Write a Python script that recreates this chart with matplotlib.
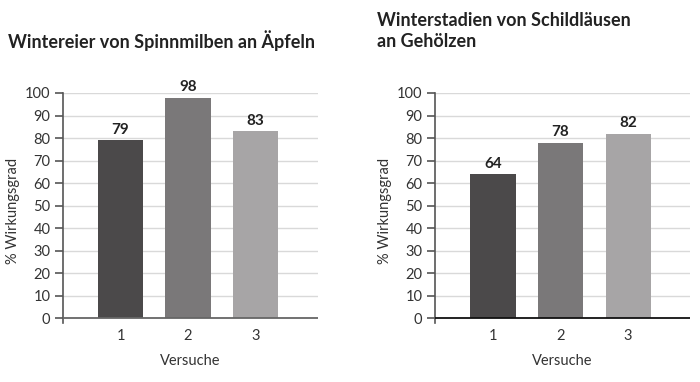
import matplotlib
matplotlib.use("Agg")
import matplotlib.pyplot as plt

plt.rcParams['font.family'] = ['Lato', 'DejaVu Sans']

categories = ["1", "2", "3"]
values_left = [79, 98, 83]
values_right = [64, 78, 82]
title_left = "Wintereier von Spinnmilben an Äpfeln"
title_right = "Winterstadien von Schildläusen\nan Gehölzen"
ylabel = "% Wirkungsgrad"
xlabel = "Versuche"
yticks = [0, 10, 20, 30, 40, 50, 60, 70, 80, 90, 100]
colors = ["#4b494a", "#7a7879", "#a7a5a6"]

W, H = 700, 382
fig = plt.figure(figsize=(W / 100, H / 100), dpi=100)


def add_ax(x0, x1, ytop, ybot):
    return fig.add_axes([x0 / W, 1 - ybot / H, (x1 - x0) / W, (ybot - ytop) / H])


def draw(ax, vals, xlim, base_color):
    xs = list(range(1, len(vals) + 1))
    ax.bar(xs, vals, width=0.667, color=colors, zorder=3)
    ax.set_xlim(*xlim)
    ax.set_ylim(-2, 100)
    ax.set_yticks(yticks)
    ax.set_xticks(xs)
    ax.set_xticklabels(categories)
    for y in yticks[1:]:
        ax.axhline(y, color="#d9d9d9", lw=1, zorder=1)
    ax.axhline(0, color=base_color, lw=1.3, zorder=4)
    for s in ["top", "right", "bottom"]:
        ax.spines[s].set_visible(False)
    ax.spines["left"].set_color("#555555")
    ax.spines["left"].set_linewidth(1.2)
    ax.tick_params(axis="y", length=6, width=1.2, color="#555555", labelsize=10.5,
                   labelcolor="#333333", pad=3)
    ax.tick_params(axis="x", length=0, labelsize=10.5, labelcolor="#333333", pad=4)
    for x, v in zip(xs, vals):
        ax.text(x, v + 1.5, str(v), ha="center", va="bottom", fontsize=11,
                fontweight="bold", color="#222222")
    ax.set_xlabel(xlabel, fontsize=10.5, color="#333333", labelpad=8)
    ax.set_ylabel(ylabel, fontsize=10.5, color="#333333")
    ax.yaxis.set_label_coords(-0.17, 0.487)


axL = add_ax(63, 318, 93, 323)
draw(axL, values_left, (0.148, 3.926), "#666666")
axR = add_ax(435, 690, 93, 323)
draw(axR, values_right, (0.141, 3.918), "#111111")

fig.text(8 / W, 1 - 41 / H, title_left, fontsize=13, fontweight="bold",
         color="#222222", va="center", ha="left")
fig.text(377 / W, 1 - 31 / H, title_right, fontsize=13, fontweight="bold",
         color="#222222", va="center", ha="left", linespacing=1.3)

fig.savefig("out.png", dpi=100)
